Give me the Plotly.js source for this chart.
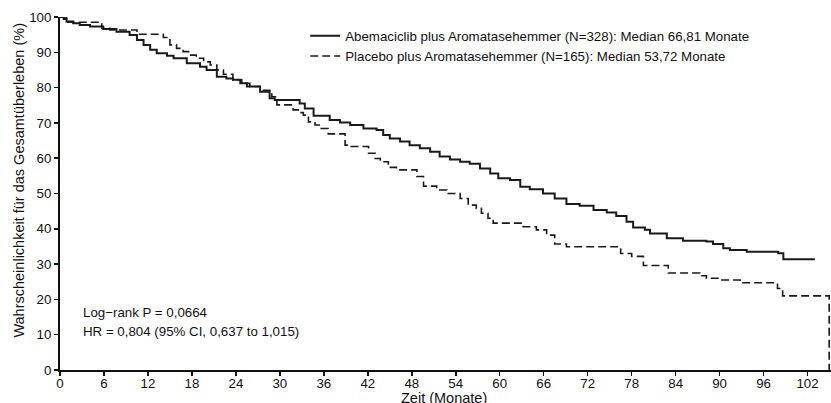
<!DOCTYPE html>
<html>
<head>
<meta charset="utf-8">
<script src="https://cdn.plot.ly/plotly-3.0.1.min.js"></script>
<style>html,body{margin:0;padding:0;background:#fff}#chart{width:831px;height:403px}</style>
</head>
<body>
<div id="chart"></div>
<script>
const abemaMonths = [0, 0.5, 0.9, 1.8, 2.7, 4.1, 5.9, 7.7, 9.5, 10.5, 11.4, 12.3, 13.2, 14.6, 15.5, 17.3, 19.1, 20.0, 21.4, 22.7, 23.6, 24.6, 25.5, 27.3, 28.6, 29.3, 32.7, 33.4, 34.6, 36.8, 38.2, 39.6, 41.4, 43.2, 44.1, 45.0, 46.4, 47.7, 49.1, 50.5, 51.8, 53.2, 54.6, 55.9, 57.3, 58.7, 59.8, 61.4, 62.8, 64.1, 65.9, 67.5, 69.1, 70.9, 72.8, 74.6, 75.9, 77.3, 78.2, 79.8, 80.5, 82.8, 85.0, 88.2, 89.1, 90.5, 91.4, 93.7, 98.0, 98.7, 103];
const abemaSurv = [100, 99.4, 98.7, 98.2, 97.7, 97.3, 96.6, 95.8, 94.9, 93.5, 92.1, 90.7, 89.7, 89.0, 88.3, 86.9, 85.9, 85.0, 83.1, 82.6, 82.2, 81.2, 80.3, 78.8, 77.0, 76.5, 75.5, 74.1, 72.0, 70.8, 70.1, 69.4, 68.4, 68.0, 66.6, 65.6, 64.7, 63.7, 62.8, 61.8, 60.5, 59.6, 59.0, 58.4, 57.1, 55.7, 54.3, 53.8, 51.9, 51.2, 50.0, 48.6, 47.0, 46.5, 45.3, 44.6, 43.6, 42.0, 40.4, 39.7, 38.7, 37.3, 36.6, 36.4, 35.7, 34.5, 34.0, 33.5, 33.1, 31.4, 31.4];
const placeboMonths = [0, 0.9, 5.7, 6.8, 10.5, 14.1, 15.0, 15.9, 16.8, 17.7, 18.6, 19.6, 20.5, 21.4, 22.3, 23.6, 24.8, 25.9, 27.3, 28.9, 29.6, 31.8, 32.7, 33.2, 33.9, 34.8, 35.5, 36.6, 38.9, 39.6, 42.1, 43.0, 43.7, 44.8, 45.9, 48.7, 49.6, 51.4, 52.8, 54.6, 55.7, 56.8, 57.5, 58.4, 59.1, 63.2, 65.0, 66.4, 67.5, 69.1, 76.5, 78.0, 79.6, 83.0, 87.3, 88.2, 90.0, 92.8, 97.9, 98.6, 104.95, 104.95];
const placeboSurv = [100, 98.5, 96.8, 96.3, 95.1, 94.2, 92.1, 91.1, 90.2, 89.2, 88.3, 87.3, 86.4, 85.0, 83.8, 82.2, 81.2, 80.3, 79.2, 77.4, 75.1, 73.7, 72.9, 72.2, 70.3, 69.4, 68.4, 66.9, 63.7, 63.3, 61.4, 59.9, 59.0, 57.4, 56.7, 54.8, 52.1, 51.0, 50.0, 48.6, 46.7, 45.8, 44.4, 43.0, 41.6, 40.6, 39.7, 38.2, 35.7, 34.9, 33.0, 32.2, 29.6, 27.5, 26.7, 26.0, 25.5, 24.7, 23.1, 21.0, 21.0, 0];
const seriesNames = ["Abemaciclib plus Aromatasehemmer (N=328): Median 66,81 Monate", "Placebo plus Aromatasehemmer (N=165): Median 53,72 Monate"];
const xTicks = [0, 6, 12, 18, 24, 30, 36, 42, 48, 54, 60, 66, 72, 78, 84, 90, 96, 102];
const yTicks = [0, 10, 20, 30, 40, 50, 60, 70, 80, 90, 100];
const statLines = ["Log\u2212rank P = 0,0664", "HR = 0,804 (95% CI, 0,637 to 1,015)"];
const xTitle = "Zeit (Monate)";
const yTitle = "Wahrscheinlichkeit für das Gesamtüberleben (%)";

const font = {family: "Liberation Sans, Arial, sans-serif", size: 13.3, color: "#111"};
const titleFont = {family: "Liberation Sans, Arial, sans-serif", size: 14.5, color: "#111"};

const traces = [
  {x: abemaMonths, y: abemaSurv, name: seriesNames[0], type: "scatter", mode: "lines",
   line: {shape: "hv", color: "#1a1a1a", width: 2}},
  {x: placeboMonths, y: placeboSurv, name: seriesNames[1], type: "scatter", mode: "lines",
   line: {shape: "hv", color: "#1a1a1a", width: 1.6, dash: "8px,4px"}}
];

const layout = {
  width: 831, height: 403,
  margin: {l: 60, r: 0, t: 17, b: 33},
  paper_bgcolor: "#fff", plot_bgcolor: "#fff",
  font: font,
  showlegend: true,
  legend: {x: 0.318, y: 0.99, xanchor: "left", yanchor: "top", bgcolor: "rgba(0,0,0,0)",
           font: font, itemwidth: 30, tracegroupgap: 0},
  xaxis: {range: [0, 105.2], tickvals: xTicks, ticktext: xTicks.map(String),
          showgrid: false, zeroline: false, showline: true, linecolor: "#111", linewidth: 2,
          ticks: "outside", ticklen: 4, tickwidth: 1.5, tickcolor: "#111",
          ticklabelstandoff: -4, automargin: false},
  yaxis: {range: [0, 100], tickvals: yTicks, ticktext: yTicks.map(String),
          showgrid: false, zeroline: false, showline: true, linecolor: "#111", linewidth: 2,
          ticks: "outside", ticklen: 4, tickwidth: 1.5, tickcolor: "#111", automargin: false},
  annotations: [
    {xref: "x", yref: "y", x: 2.9, y: 16.2, text: statLines[0], showarrow: false, xanchor: "left", yanchor: "middle", font: font},
    {xref: "x", yref: "y", x: 2.9, y: 11.0, text: statLines[1], showarrow: false, xanchor: "left", yanchor: "middle", font: font},
    {xref: "x", yref: "paper", x: 52.4, y: 0, yshift: -28, text: xTitle, showarrow: false, xanchor: "center", yanchor: "middle", font: titleFont},
    {xref: "paper", yref: "paper", x: -0.0525, y: 0.538, text: yTitle, textangle: -90, showarrow: false, xanchor: "center", yanchor: "middle", font: titleFont}
  ]
};

Plotly.newPlot("chart", traces, layout, {displayModeBar: false, staticPlot: true});
</script>
</body>
</html>
